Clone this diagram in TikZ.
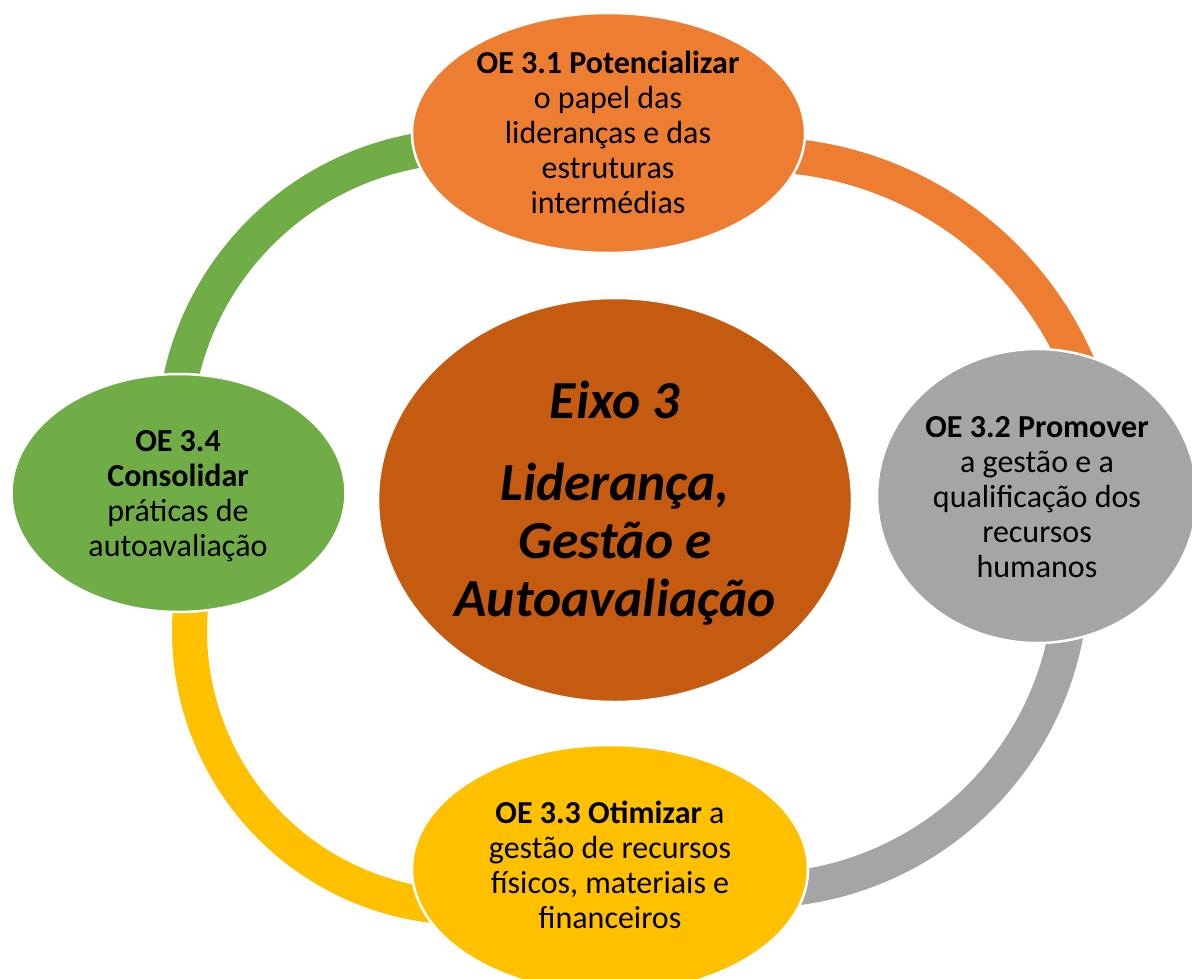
\documentclass[tikz,border=0pt]{standalone}
\usepackage{fontspec}
\setmainfont{Carlito}
\usetikzlibrary{shapes.geometric}
\definecolor{cOrange}{HTML}{ED7D31}
\definecolor{cGreen}{HTML}{70AD47}
\definecolor{cGray}{HTML}{A5A5A5}
\definecolor{cYellow}{HTML}{FFC000}
\definecolor{cCenter}{HTML}{C55A11}
\begin{document}
\begin{tikzpicture}[x=1pt,y=-1pt,
  band/.style={line width=35pt, line cap=butt},
  blob/.style={ellipse, draw=white, line width=2.5pt, inner sep=0pt},
  small/.style={align=center, font=\fontsize{32}{35}\selectfont, text=black},
  big/.style={align=center, font=\fontsize{53.5}{58}\selectfont\bfseries\itshape, text=black}]
\useasboundingbox (0,0) rectangle (1192,978);
\clip (0,0) rectangle (1192,978);
\fill[white] (0,0) rectangle (1192,978);

% centres of the circular arcs of the ring
\coordinate (cg) at (469,441);
\coordinate (co) at (758,503);
\coordinate (cr) at (756,575);
\coordinate (cy) at (466,631);

% bands (their ends run under the ellipses)
\draw[band, cGreen]  (cg) ++(-171.5:295) arc[start angle=-171.5, end angle=-96.3, radius=295];
\draw[band, cOrange] (co) ++(-87.5:348.5) arc[start angle=-87.5, end angle=-21, radius=348.5];
\draw[band, cGray]   (cr) ++(7.9:315.5) arc[start angle=7.9, end angle=86.1, radius=315.5];
\draw[band, cYellow] (cy) ++(188.5:276.5) arc[start angle=188.5, end angle=93.9, radius=276.5];

% ellipses
\node[blob, fill=cOrange, minimum width=393pt, minimum height=240pt] (oe1) at (608.5,133) {};
\node[blob, fill=cGray, minimum width=320pt, minimum height=294pt] (oe2) at (1037,496) {};
\node[blob, fill=cYellow, minimum width=396pt, minimum height=248pt] (oe3) at (610,869) {};
\node[blob, fill=cGreen, minimum width=334pt, minimum height=238pt] (oe4) at (178.5,493) {};
\node[blob, fill=cCenter, minimum width=474pt, minimum height=404pt] (ctr) at (615,500) {};

% texts
\node[small] (t1) at (608,132) {\textbf{OE 3.1 Potencializar}\\o papel das\\lideranças e das\\estruturas\\intermédias};
\node[small] (t2) at (1037,497) {\textbf{OE 3.2 Promover}\\a gestão e a\\qualificação dos\\recursos\\humanos};
\node[small] (t3) at (610,865) {\textbf{OE 3.3 Otimizar} a\\gestão de recursos\\físicos, materiais e\\financeiros};
\node[small] (t4) at (178,496) {\textbf{OE 3.4}\\\textbf{Consolidar}\\práticas de\\autoavaliação};
\node[big] (tc) at (615,503) {Eixo 3\\[24pt]Liderança,\\Gestão e\\Autoavaliação};
\end{tikzpicture}
\end{document}
